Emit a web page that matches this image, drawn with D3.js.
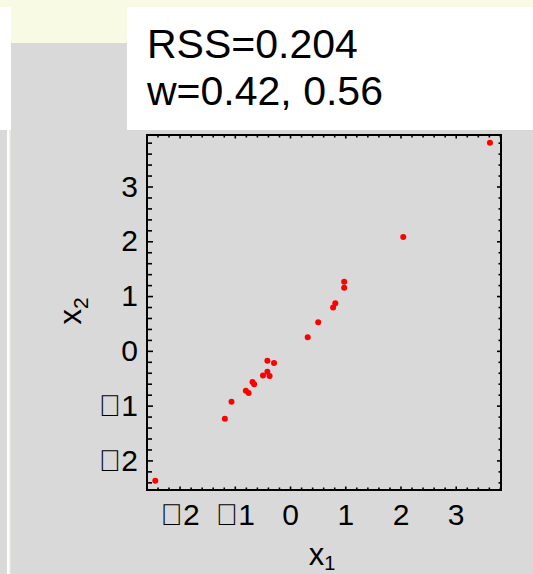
<!DOCTYPE html>
<html>
<head>
<meta charset="utf-8">
<script src="https://cdn.jsdelivr.net/npm/d3@7"></script>
<style>
  html, body { margin: 0; padding: 0; background: #d9d9d9; }
  svg { display: block; }
</style>
</head>
<body>
<svg id="chart" width="533" height="574"></svg>
<script>
// Sample points (x1, x2).
const x1 = [3.62, 2.05, 0.98, 0.98, 0.82, 0.78, 0.51, 0.32, -0.41, -0.29,
            -0.41, -0.49, -0.37, -0.68, -0.65, -0.80, -0.75, -1.06, -1.18, -2.44];
const x2 = [3.80, 2.08, 1.26, 1.15, 0.87, 0.79, 0.52, 0.25, -0.18, -0.22,
            -0.38, -0.45, -0.46, -0.57, -0.61, -0.73, -0.77, -0.93, -1.24, -2.37];

const majorTicks = [-2, -1, 0, 1, 2, 3];
const annotation = ["RSS=0.204", "w=0.42, 0.56"];

// The original renders its minus sign as a missing glyph.
const MINUS = "\uF3D7";
const fmt = d => d < 0 ? MINUS + Math.abs(d) : String(d);

const FONT = "Liberation Sans, Arial, sans-serif";
const frame = { left: 147, top: 135, right: 501, bottom: 490 };

const svg = d3.select("#chart");

// Background panels
svg.append("rect").attr("x", 0).attr("y", 0).attr("width", 533).attr("height", 574).attr("fill", "#d9d9d9");
svg.append("rect").attr("x", 0).attr("y", 0).attr("width", 533).attr("height", 7).attr("fill", "#f9fae3");
svg.append("rect").attr("x", 11).attr("y", 7).attr("width", 116).attr("height", 36).attr("fill", "#f9fae3");
svg.append("rect").attr("x", 0).attr("y", 7).attr("width", 11).attr("height", 123).attr("fill", "#ffffff");
svg.append("rect").attr("x", 7).attr("y", 130).attr("width", 2.5).attr("height", 444).attr("fill", "#ffffff");
svg.append("rect").attr("x", 9.5).attr("y", 130).attr("width", 1).attr("height", 444).attr("fill", "#f3f4de");
svg.append("rect").attr("x", 127).attr("y", 7).attr("width", 406).attr("height", 123).attr("fill", "#ffffff");

// Annotation text
svg.selectAll("text.note")
  .data(annotation)
  .join("text")
  .attr("class", "note")
  .attr("x", 147)
  .attr("y", (d, i) => 58 + i * 47)
  .attr("font-family", FONT)
  .attr("font-size", "41px")
  .attr("fill", "#000")
  .text(d => d);

const x = d3.scaleLinear().domain([-2.59, 3.82]).range([frame.left, frame.right]);
const y = d3.scaleLinear().domain([-2.54, 3.94]).range([frame.bottom, frame.top]);

const minorX = d3.range(-25, 39).map(d => d / 10).filter(d => Math.round(d * 10) % 2 === 0 && !Number.isInteger(d));
const minorY = d3.range(-25, 40).map(d => d / 10).filter(d => Math.round(d * 10) % 2 === 0 && !Number.isInteger(d));

function tickAxis(axis, values, size, tx, ty) {
  const g = svg.append("g")
    .attr("transform", `translate(${tx},${ty})`)
    .call(axis.tickValues(values).tickSize(size).tickFormat(""));
  g.select(".domain").remove();
  g.selectAll(".tick line").attr("stroke", "#000").attr("stroke-width", 1.6);
  return g;
}

// Minor / major ticks pointing inward on all four sides
tickAxis(d3.axisLeft(y), minorY, -5, frame.left, 0);
tickAxis(d3.axisLeft(y), majorTicks, -6, frame.left, 0);
tickAxis(d3.axisRight(y), minorY, -2.5, frame.right, 0);
tickAxis(d3.axisRight(y), majorTicks, -4, frame.right, 0);
tickAxis(d3.axisBottom(x), minorX, -2.5, 0, frame.bottom);
tickAxis(d3.axisBottom(x), majorTicks, -3.5, 0, frame.bottom);
tickAxis(d3.axisTop(x), minorX, -2.5, 0, frame.top);
tickAxis(d3.axisTop(x), majorTicks, -3.5, 0, frame.top);

// Tick labels
const xLab = svg.append("g")
  .attr("transform", `translate(0,${frame.bottom})`)
  .call(d3.axisBottom(x).tickValues(majorTicks).tickSize(0).tickPadding(14).tickFormat(fmt));
xLab.select(".domain").remove();
xLab.selectAll("text").attr("font-family", FONT).attr("font-size", "30px").attr("fill", "#000");

const yLab = svg.append("g")
  .attr("transform", `translate(${frame.left},0)`)
  .call(d3.axisLeft(y).tickValues(majorTicks).tickSize(0).tickPadding(9).tickFormat(fmt));
yLab.select(".domain").remove();
yLab.selectAll("text").attr("font-family", FONT).attr("font-size", "30px").attr("fill", "#000");

// Frame
svg.append("rect")
  .attr("x", frame.left).attr("y", frame.top)
  .attr("width", frame.right - frame.left).attr("height", frame.bottom - frame.top)
  .attr("fill", "none").attr("stroke", "#000").attr("stroke-width", 2);

// Points
svg.append("g")
  .selectAll("circle")
  .data(d3.range(x1.length))
  .join("circle")
  .attr("cx", i => x(x1[i]))
  .attr("cy", i => y(x2[i]))
  .attr("r", 3)
  .attr("fill", "#ff0000");

// Axis titles
const xt = svg.append("text")
  .attr("x", 322).attr("y", 565)
  .attr("text-anchor", "middle")
  .attr("font-family", FONT).attr("font-size", "31px").attr("fill", "#000");
xt.append("tspan").text("x");
xt.append("tspan").attr("font-size", "20px").attr("dy", 5).text("1");

const yt = svg.append("text")
  .attr("transform", "translate(81,311) rotate(-90)")
  .attr("text-anchor", "middle")
  .attr("font-family", FONT).attr("font-size", "31px").attr("fill", "#000");
yt.append("tspan").text("x");
yt.append("tspan").attr("font-size", "21px").attr("dy", 7).text("2");
</script>
</body>
</html>
